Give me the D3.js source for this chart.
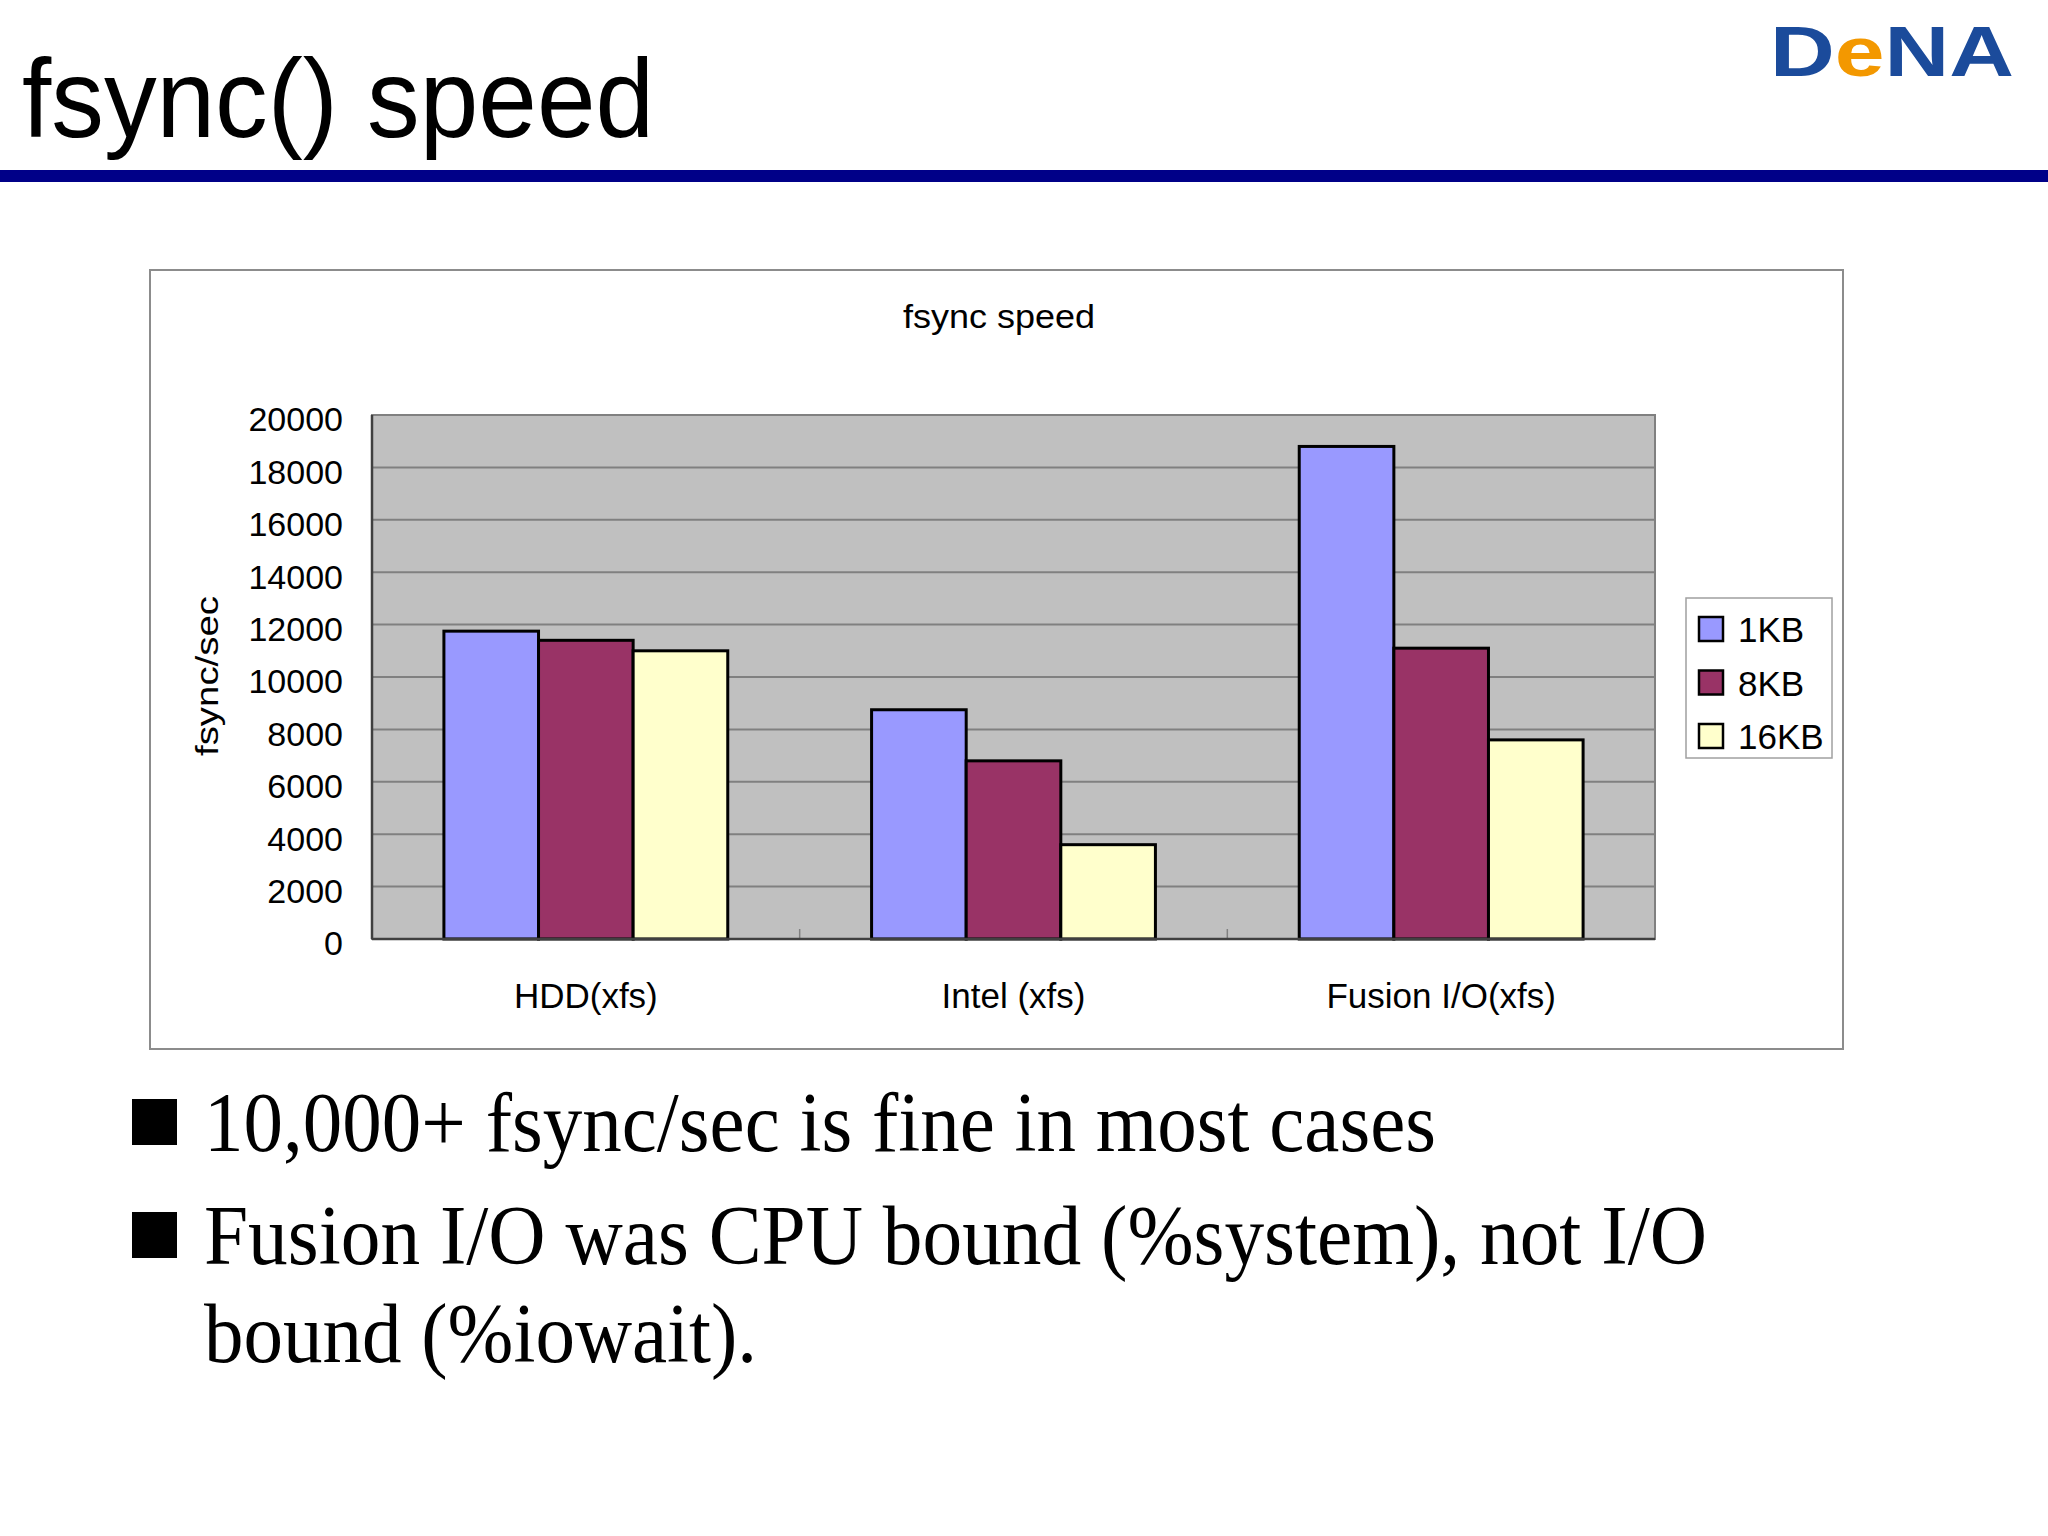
<!DOCTYPE html>
<html>
<head>
<meta charset="utf-8">
<script src="https://cdn.jsdelivr.net/npm/d3@7"></script>
<style>
  body { margin: 0; background: #fff; }
</style>
</head>
<body>
<div id="chart"></div>
<script>
const categories = ["HDD(xfs)", "Intel (xfs)", "Fusion I/O(xfs)"];
const seriesNames = ["1KB", "8KB", "16KB"];
const values1KB = [11750, 8750, 18800];
const values8KB = [11400, 6800, 11100];
const values16KB = [11000, 3600, 7600];
const seriesColors = ["#9999ff", "#993366", "#ffffcc"];
const yTicks = [0, 2000, 4000, 6000, 8000, 10000, 12000, 14000, 16000, 18000, 20000];
const bulletLines = [
    { text: "10,000+ fsync/sec is fine in most cases", bullet: true, len: 1232 },
    { text: "Fusion I/O was CPU bound (%system), not I/O", bullet: true, len: 1503 },
    { text: "bound (%iowait).", bullet: false, len: 553 }
];

const series = [values1KB, values8KB, values16KB];
const sans = "Liberation Sans, Arial, sans-serif";
const serif = "Liberation Serif, Times New Roman, serif";

const svg = d3.select("#chart")
    .append("svg")
    .attr("width", 2048)
    .attr("height", 1536)
    .style("font-family", sans);

// slide header
svg.append("text")
    .attr("x", 22)
    .attr("y", 137)
    .attr("font-size", 112)
    .attr("textLength", 632)
    .attr("lengthAdjust", "spacingAndGlyphs")
    .text("fsync() speed");

svg.append("rect")
    .attr("x", 0).attr("y", 170)
    .attr("width", 2048).attr("height", 12)
    .attr("fill", "#000088");

const logo = svg.append("text")
    .attr("x", 1770)
    .attr("y", 76)
    .attr("font-size", 70)
    .attr("font-weight", "bold")
    .attr("textLength", 244)
    .attr("lengthAdjust", "spacingAndGlyphs");
logo.append("tspan").attr("fill", "#1b4b9b").text("D");
logo.append("tspan").attr("fill", "#f39800").text("e");
logo.append("tspan").attr("fill", "#1b4b9b").text("NA");

// chart frame
svg.append("rect")
    .attr("x", 150).attr("y", 270)
    .attr("width", 1693).attr("height", 779)
    .attr("fill", "#fff")
    .attr("stroke", "#8c8c8c")
    .attr("stroke-width", 2);

svg.append("text")
    .attr("x", 999)
    .attr("y", 328)
    .attr("text-anchor", "middle")
    .attr("font-size", 34)
    .attr("textLength", 192)
    .attr("lengthAdjust", "spacingAndGlyphs")
    .text("fsync speed");

const plot = { left: 372, top: 415, right: 1655, bottom: 939 };

const x0 = d3.scaleBand()
    .domain(categories)
    .range([plot.left, plot.right]);

const x1 = d3.scaleBand()
    .domain(seriesNames)
    .range([0, x0.bandwidth()])
    .paddingOuter(0.76);

const y = d3.scaleLinear()
    .domain([0, 20000])
    .range([plot.bottom, plot.top]);

svg.append("rect")
    .attr("x", plot.left).attr("y", plot.top)
    .attr("width", plot.right - plot.left)
    .attr("height", plot.bottom - plot.top)
    .attr("fill", "#c0c0c0")
    .attr("stroke", "#808080")
    .attr("stroke-width", 2);

svg.selectAll(".grid")
    .data(yTicks.slice(1))
    .enter()
    .append("line")
    .attr("class", "grid")
    .attr("x1", plot.left).attr("x2", plot.right)
    .attr("y1", d => y(d)).attr("y2", d => y(d))
    .attr("stroke", "#808080")
    .attr("stroke-width", 2);

// category boundary ticks
svg.selectAll(".ctick")
    .data(categories.slice(1))
    .enter()
    .append("line")
    .attr("class", "ctick")
    .attr("x1", d => x0(d)).attr("x2", d => x0(d))
    .attr("y1", plot.bottom).attr("y2", plot.bottom - 10)
    .attr("stroke", "#808080")
    .attr("stroke-width", 1.5);

const groups = svg.selectAll(".group")
    .data(categories)
    .enter()
    .append("g")
    .attr("class", "group")
    .attr("transform", d => `translate(${x0(d)},0)`);

groups.selectAll("rect")
    .data((d, i) => seriesNames.map((s, j) => ({ s: s, v: series[j][i], c: seriesColors[j] })))
    .enter()
    .append("rect")
    .attr("x", d => x1(d.s))
    .attr("y", d => y(d.v))
    .attr("width", x1.bandwidth())
    .attr("height", d => y(0) - y(d.v))
    .attr("fill", d => d.c)
    .attr("stroke", "#000")
    .attr("stroke-width", 3);

// axis lines
svg.append("line")
    .attr("x1", plot.left).attr("x2", plot.left)
    .attr("y1", plot.top).attr("y2", plot.bottom)
    .attr("stroke", "#404040").attr("stroke-width", 2.5);
svg.append("line")
    .attr("x1", plot.left).attr("x2", plot.right)
    .attr("y1", plot.bottom).attr("y2", plot.bottom)
    .attr("stroke", "#404040").attr("stroke-width", 2.5);

const yAxis = svg.append("g")
    .attr("transform", `translate(${plot.left},0)`)
    .call(d3.axisLeft(y).tickValues(yTicks).tickFormat(d3.format("d")).tickSize(0).tickPadding(29));
yAxis.select(".domain").remove();
yAxis.selectAll("text")
    .attr("font-size", 34)
    .style("font-family", sans)
    .attr("fill", "#000")
    .attr("dy", "0.47em");

const xAxis = svg.append("g")
    .attr("transform", `translate(0,${plot.bottom})`)
    .call(d3.axisBottom(x0).tickSize(0));
xAxis.select(".domain").remove();
xAxis.selectAll("text")
    .attr("font-size", 35)
    .style("font-family", sans)
    .attr("fill", "#000")
    .attr("y", 69)
    .attr("dy", 0);

svg.append("text")
    .attr("transform", "translate(218,676) rotate(-90)")
    .attr("text-anchor", "middle")
    .attr("font-size", 31)
    .attr("textLength", 160)
    .attr("lengthAdjust", "spacingAndGlyphs")
    .text("fsync/sec");

// legend
svg.append("rect")
    .attr("x", 1686).attr("y", 598)
    .attr("width", 146).attr("height", 160)
    .attr("fill", "#fff")
    .attr("stroke", "#a0a0a0")
    .attr("stroke-width", 1.5);

const legendRow = d3.scalePoint()
    .domain(seriesNames)
    .range([629, 736]);

const legend = svg.selectAll(".legend")
    .data(seriesNames)
    .enter()
    .append("g")
    .attr("class", "legend")
    .attr("transform", d => `translate(1699,${legendRow(d)})`);

legend.append("rect")
    .attr("x", 0).attr("y", -12)
    .attr("width", 24).attr("height", 24)
    .attr("fill", (d, i) => seriesColors[i])
    .attr("stroke", "#000")
    .attr("stroke-width", 2.5);

legend.append("text")
    .attr("x", 39)
    .attr("y", 13)
    .attr("font-size", 35)
    .text(d => d);

// bullet text
const lineY = [1151, 1264, 1362];
bulletLines.forEach((b, i) => {
    if (b.bullet) {
        svg.append("rect")
            .attr("x", 132).attr("y", lineY[i] - 52)
            .attr("width", 45).attr("height", 46)
            .attr("fill", "#000");
    }
    svg.append("text")
        .attr("x", 204)
        .attr("y", lineY[i])
        .style("font-family", serif)
        .attr("font-size", 84)
        .attr("textLength", b.len)
        .attr("lengthAdjust", "spacingAndGlyphs")
        .text(b.text);
});
</script>
</body>
</html>
